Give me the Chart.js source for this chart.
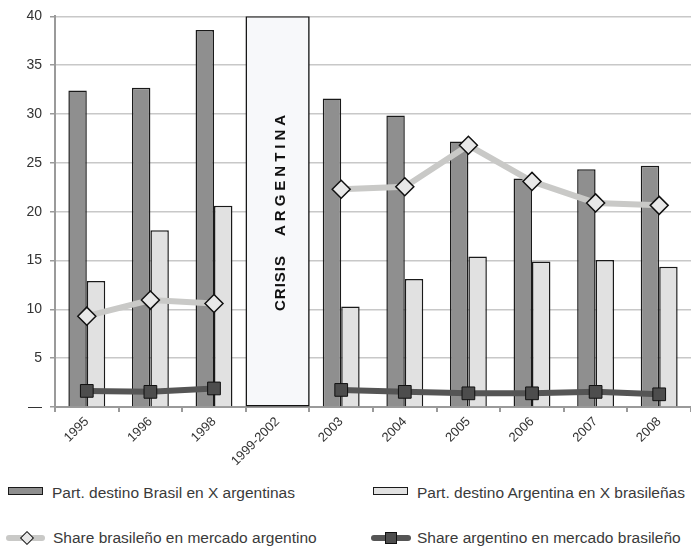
<!DOCTYPE html>
<html>
<head>
<meta charset="utf-8">
<script src="https://cdn.jsdelivr.net/npm/chart.js@4.4.1/dist/chart.umd.min.js"></script>
<style>
  html, body { margin: 0; padding: 0; background: #fff; }
  #wrap { position: relative; width: 691px; height: 547px; overflow: hidden; font-family: "Liberation Sans", Arial, sans-serif; }
  #grafico { position: absolute; left: 0; top: 0; }
  .item { position: absolute; height: 20px; line-height: 20px; font-size: 15.5px; color: #3a3a3a; white-space: nowrap; }
  .sw { position: absolute; box-sizing: border-box; }
</style>
</head>
<body>
<div id="wrap">
  <canvas id="grafico" width="691" height="470"></canvas>
  <div id="leyenda"></div>
</div>
<script>
// datos
var categorias = ['1995', '1996', '1998', '1999-2002', '2003', '2004', '2005', '2006', '2007', '2008'];
var destinoBrasil = [32.4, 32.7, 38.6, null, 31.6, 29.85, 27.2, 23.4, 24.35, 24.7];
var destinoArgentina = [12.9, 18.1, 20.6, null, 10.3, 13.1, 15.4, 14.9, 15.05, 14.35];
var shareBrasileno = [9.3, 10.95, 10.6, null, 22.3, 22.55, 26.8, 23.1, 20.9, 20.65];
var shareArgentino = [1.65, 1.55, 1.9, null, 1.75, 1.55, 1.4, 1.4, 1.55, 1.3];
var crisis = [null, null, null, 40, null, null, null, null, null, null];
var etiquetas = ['Part. destino Brasil en X argentinas', 'Part. destino Argentina en X brasileñas',
                 'Share brasileño en mercado argentino', 'Share argentino en mercado brasileño'];
var textoCrisis = ['CRISIS', 'ARGENTINA'];

var gris = '#9a9a9a';

// texto vertical dentro de la caja de la crisis
var crisisLabel = {
    id: 'crisisLabel',
    afterDatasetsDraw: function (chart) {
        var bar = chart.getDatasetMeta(4).data[3];
        if (!bar) return;
        var ctx = chart.ctx;
        ctx.save();
        ctx.translate(bar.x + 7.5, chart.chartArea.bottom - 96);
        ctx.rotate(-Math.PI / 2);
        ctx.font = 'bold 15px "Liberation Sans", Arial, sans-serif';
        ctx.fillStyle = '#111';
        ctx.textBaseline = 'alphabetic';
        ctx.textAlign = 'left';
        ctx.letterSpacing = '1px';
        ctx.fillText(textoCrisis[0], 0, 0);
        ctx.letterSpacing = '4px';
        ctx.fillText(textoCrisis[1], 75, 0);
        ctx.restore();
    }
};

var ctx = document.getElementById('grafico').getContext('2d');

new Chart(ctx, {
    type: 'bar',
    data: {
        labels: categorias,
        datasets: [{
            type: 'line',
            label: etiquetas[2],
            data: shareBrasileno,
            order: 0,
            borderColor: '#c9c9c7',
            borderWidth: 6,
            pointStyle: 'rectRot',
            pointRadius: 9,
            pointBackgroundColor: '#e8e8e8',
            pointBorderColor: '#111',
            pointBorderWidth: 1.5,
            tension: 0
        }, {
            type: 'line',
            label: etiquetas[3],
            data: shareArgentino,
            order: 0,
            borderColor: '#555555',
            borderWidth: 6,
            pointStyle: 'rect',
            pointRadius: 9,
            pointBackgroundColor: '#4d4d4d',
            pointBorderColor: '#111',
            pointBorderWidth: 1,
            tension: 0
        }, {
            label: etiquetas[0],
            data: destinoBrasil,
            order: 1,
            backgroundColor: '#8f8f8f',
            borderColor: '#1a1a1a',
            borderWidth: 1.5,
            categoryPercentage: 0.58,
            barPercentage: 1
        }, {
            label: etiquetas[1],
            data: destinoArgentina,
            order: 1,
            backgroundColor: '#e1e1e1',
            borderColor: '#1a1a1a',
            borderWidth: 1.5,
            categoryPercentage: 0.58,
            barPercentage: 1
        }, {
            label: 'crisis',
            data: crisis,
            order: 2,
            grouped: false,
            backgroundColor: '#f7f8fa',
            borderColor: '#111',
            borderWidth: 1.5,
            borderSkipped: false,
            categoryPercentage: 1,
            barPercentage: 1
        }]
    },
    options: {
        responsive: false,
        animation: false,
        devicePixelRatio: 1,
        layout: { autoPadding: false, padding: { top: 14, right: 0, left: 0, bottom: 0 } },
        plugins: {
            legend: { display: false },
            tooltip: { enabled: false }
        },
        scales: {
            x: {
                grid: { drawOnChartArea: false, offset: true, tickLength: 5, tickColor: gris, lineWidth: 2 },
                border: { color: gris, width: 2 },
                ticks: {
                    minRotation: 45, maxRotation: 45, padding: 2,
                    color: '#333', font: { size: 13, family: '"Liberation Sans", Arial, sans-serif' }
                },
                afterFit: function (s) {
                    s.height = 63;
                    s.paddingLeft = 0;
                    s.paddingRight = 0;
                }
            },
            y: {
                min: 0, max: 40,
                grid: { color: '#c8c8c8', lineWidth: 1.5, tickLength: 5, tickColor: gris },
                border: { color: gris, width: 2 },
                ticks: {
                    stepSize: 5, padding: 8, color: '#333',
                    font: { size: 14, family: '"Liberation Sans", Arial, sans-serif' },
                    callback: function (v) { return v === 0 ? '—' : v; }
                },
                afterFit: function (s) { s.width = 55; }
            }
        }
    },
    plugins: [crisisLabel]
});

// leyenda en html, 2 x 2
var $ley = document.getElementById('leyenda');
function item(left, top, text) {
    var d = document.createElement('div');
    d.className = 'item';
    d.style.left = left + 'px';
    d.style.top = top + 'px';
    d.textContent = text;
    $ley.appendChild(d);
}
function sw(css) {
    var d = document.createElement('div');
    d.className = 'sw';
    d.style.cssText = css;
    $ley.appendChild(d);
}
sw('left:8px;top:487px;width:35px;height:8px;background:#8f8f8f;border:1.5px solid #1a1a1a;');
item(52, 483, etiquetas[0]);
sw('left:373px;top:487px;width:35px;height:8px;background:#e1e1e1;border:1.5px solid #1a1a1a;');
item(417, 483, etiquetas[1]);
sw('left:6px;top:535px;width:39px;height:6px;background:#c9c9c7;border-radius:3px;');
sw('left:22px;top:533px;width:10px;height:10px;background:#e8e8e8;border:1.5px solid #111;transform:rotate(45deg);');
item(53, 528, etiquetas[2]);
sw('left:371px;top:535px;width:40px;height:6px;background:#555;border-radius:3px;');
sw('left:385px;top:532px;width:12px;height:12px;background:#4d4d4d;border:1px solid #111;');
item(417, 528, etiquetas[3]);
</script>
</body>
</html>
